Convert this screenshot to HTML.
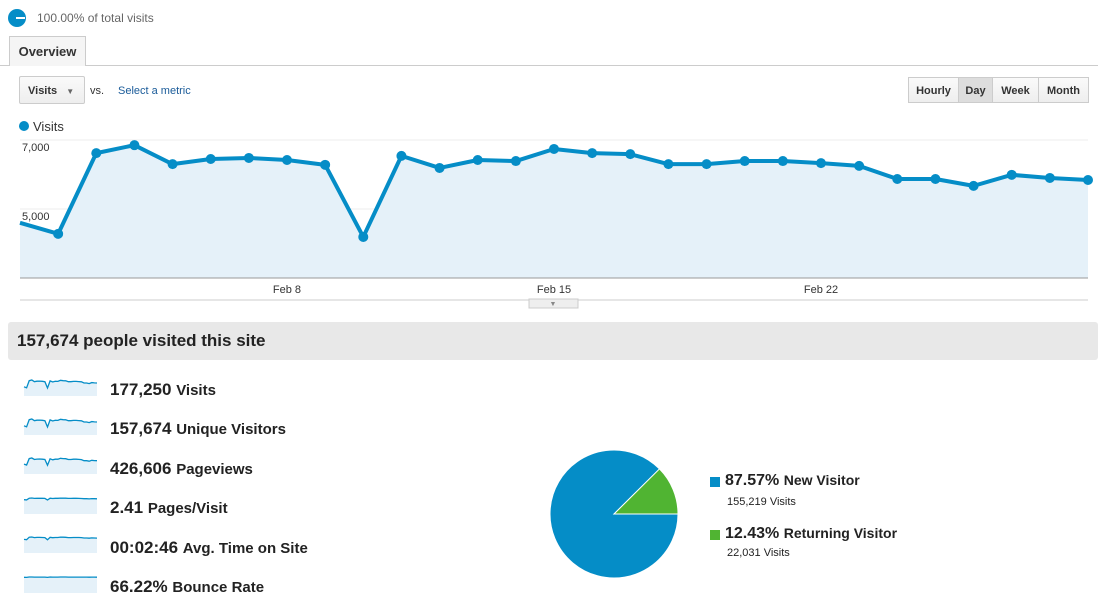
<!DOCTYPE html>
<html><head><meta charset="utf-8"><style>
body{margin:0;width:1098px;height:608px;background:#fff;font-family:"Liberation Sans",Arial,sans-serif;position:relative;overflow:hidden}
.a{position:absolute}
.btn{position:absolute;top:77px;height:26px;border:1px solid #ccc;background:linear-gradient(#fafafa,#eee);font-size:11px;font-weight:bold;color:#333;line-height:26px;text-align:center;box-sizing:border-box}
.m{position:absolute;left:110px;font-size:17px;font-weight:bold;color:#222}
.m span{font-size:15px}
</style></head><body>
<div class="a" style="left:8px;top:9px;width:18px;height:18px;border-radius:50%;background:#058dc7"></div>
<div class="a" style="left:16px;top:17px;width:9px;height:2px;background:#fff"></div>
<div class="a" style="left:37px;top:11px;font-size:12px;color:#666">100.00% of total visits</div>
<div class="a" style="left:0;top:65px;width:1098px;height:1px;background:#ccc"></div>
<div class="a" style="left:9px;top:36px;width:77px;height:30px;border:1px solid #ccc;border-bottom:none;background:#f5f5f5;font-size:13px;font-weight:bold;color:#333;line-height:30px;text-align:center;box-sizing:border-box">Overview</div>
<div class="a" style="left:19px;top:76px;width:66px;height:28px;border:1px solid #ccc;border-radius:2px;background:linear-gradient(#fafafa,#eee);font-size:11px;font-weight:bold;color:#333;line-height:28px;box-sizing:border-box;padding-left:8px">Visits <span style="color:#666;font-size:8px;margin-left:6px">▼</span></div>
<div class="a" style="left:90px;top:85px;font-size:11px;color:#333">vs.</div>
<div class="a" style="left:118px;top:85px;font-size:11px;color:#1a5b99">Select a metric</div>
<div class="btn" style="left:908px;width:51px">Hourly</div>
<div class="btn" style="left:958px;width:35px;background:#ddd">Day</div>
<div class="btn" style="left:992px;width:47px">Week</div>
<div class="btn" style="left:1038px;width:51px">Month</div>
<div class="a" style="left:19px;top:121px;width:10px;height:10px;border-radius:50%;background:#058dc7"></div>
<div class="a" style="left:33px;top:119px;font-size:13px;color:#333">Visits</div>

<svg class="a" style="left:0;top:0" width="1098" height="320">
<g id="grid"></g><path id="area" fill="#e5f1f9"></path><path id="line" fill="none" stroke="#058dc7" stroke-width="4" stroke-linejoin="round"></path><g id="dots"></g><g id="xl"></g>
<line x1="20" y1="278" x2="1088" y2="278" stroke="#999"/>
<line x1="20" y1="300" x2="1088" y2="300" stroke="#ccc"/>
<rect x="529" y="299" width="49" height="9" fill="#eee" stroke="#ccc"/>
<text x="553" y="306" font-size="7" fill="#888" text-anchor="middle">▼</text>
</svg>

<div class="a" style="left:8px;top:322px;width:1090px;height:38px;background:#e8e8e8;border-radius:3px;font-size:17px;font-weight:bold;color:#222;line-height:38px;padding-left:9px;box-sizing:border-box">157,674 people visited this site</div>

<svg class="a" style="left:0;top:360px" width="110" height="240" id="spark"></svg>
<div class="m" style="top:380px">177,250 <span>Visits</span></div>
<div class="m" style="top:419px">157,674 <span>Unique Visitors</span></div>
<div class="m" style="top:459px">426,606 <span>Pageviews</span></div>
<div class="m" style="top:498px">2.41 <span>Pages/Visit</span></div>
<div class="m" style="top:538px">00:02:46 <span>Avg. Time on Site</span></div>
<div class="m" style="top:577px">66.22% <span>Bounce Rate</span></div>

<svg class="a" style="left:540px;top:440px" width="150" height="150" id="pie"></svg>
<div class="a" style="left:710px;top:477px;width:10px;height:10px;background:#058dc7"></div>
<div class="a" style="left:725px;top:472px;font-size:16px;font-weight:bold;color:#222">87.57% <span style="font-size:14px">New Visitor</span></div>
<div class="a" style="left:727px;top:496px;font-size:11px;color:#222">155,219 Visits</div>
<div class="a" style="left:710px;top:530px;width:10px;height:10px;background:#50b432"></div>
<div class="a" style="left:725px;top:525px;font-size:16px;font-weight:bold;color:#222">12.43% <span style="font-size:14px">Returning Visitor</span></div>
<div class="a" style="left:727px;top:547px;font-size:11px;color:#222">22,031 Visits</div>

<script>
const days=["Feb 1","Feb 2","Feb 3","Feb 4","Feb 5","Feb 6","Feb 7","Feb 8","Feb 9","Feb 10","Feb 11","Feb 12","Feb 13","Feb 14","Feb 15","Feb 16","Feb 17","Feb 18","Feb 19","Feb 20","Feb 21","Feb 22","Feb 23","Feb 24","Feb 25","Feb 26","Feb 27","Feb 28","Feb 29"];
const visits=[4600,4280,6620,6850,6300,6450,6480,6420,6280,4190,6540,6190,6420,6390,6740,6620,6590,6300,6300,6390,6390,6330,6250,5870,5870,5670,5990,5900,5840];
const yTicks=[5000,7000];
const yTickLabels=["5,000","7,000"];
const xTickLabels=["Feb 8","Feb 15","Feb 22"];
const pieLabels=["New Visitor","Returning Visitor"];
const pieValues=[155219,22031];
const NS="http://www.w3.org/2000/svg";
const X=i=>20+i*(1068/(days.length-1));
const Y=v=>278-(v-3000)*0.0345;
function mk(t,a,p){const e=document.createElementNS(NS,t);for(const k in a)e.setAttribute(k,a[k]);p.appendChild(e);return e;}
const grid=document.getElementById('grid');
yTicks.forEach((t,i)=>{
 const l=mk('line',{x1:20,x2:1088,y1:Y(t),y2:Y(t),stroke:'#eee'},grid);
 
 
 const tx=mk('text',{x:22,y:Y(t)+11,'font-size':11,fill:'#333'},grid);tx.textContent=yTickLabels[i];
 
 
});
let d='';visits.forEach((v,i)=>{d+=(i?'L':'M')+X(i)+','+Y(v);});
document.getElementById('line').setAttribute('d',d);
document.getElementById('area').setAttribute('d',d+'L'+X(visits.length-1)+',278L20,278Z');
const dots=document.getElementById('dots');
visits.forEach((v,i)=>{if(i==0)return;const c=mk('circle',{cx:X(i),cy:Y(v),r:5,fill:'#058dc7'},dots);
 
 });
const xl=document.getElementById('xl');
xTickLabels.forEach(s=>{const i=days.indexOf(s);const t=mk('text',{x:X(i),y:293,'font-size':11,fill:'#333','text-anchor':'middle'},xl);t.textContent=s;
 
 });
// sparklines
const sp=document.getElementById('spark');
const rows=[20,59,98,138,177,217];
const amps=[1,1,0.9,0.25,0.35,0.05];
rows.forEach((r,k)=>{
 const sx=i=>24+i*73/(visits.length-1);
 const sy=v=>r+(6850-v)/2650*8*amps[k]+ (k>2?0:0);
 let p='';visits.forEach((v,i)=>{p+=(i?'L':'M')+sx(i).toFixed(1)+','+sy(v).toFixed(1);});
 const a=mk('path',{d:p+'L97,'+(r+16)+'L24,'+(r+16)+'Z',fill:'#e5f1f9'},sp);
 
 
 const l=mk('path',{d:p,fill:'none',stroke:'#058dc7','stroke-width':1.3},sp);
 
 
});
// pie
const pie=document.getElementById('pie');
const tot=pieValues.reduce((a,b)=>a+b,0);const cx=74,cy=74,R=64;const cols=['#058dc7','#50b432'];
let ang=0;
pieValues.forEach((v,i)=>{
 const a0=ang,a1=ang+v/tot*2*Math.PI;ang=a1;
 const x0=cx+R*Math.cos(a0),y0=cy+R*Math.sin(a0),x1=cx+R*Math.cos(a1),y1=cy+R*Math.sin(a1);
 const s=mk('path',{d:`M${cx},${cy}L${x0},${y0}A${R},${R} 0 ${a1-a0>Math.PI?1:0} 1 ${x1},${y1}Z`,fill:cols[i],stroke:'#fff','stroke-width':1},pie);
 
 
});
</script>
</body></html>
